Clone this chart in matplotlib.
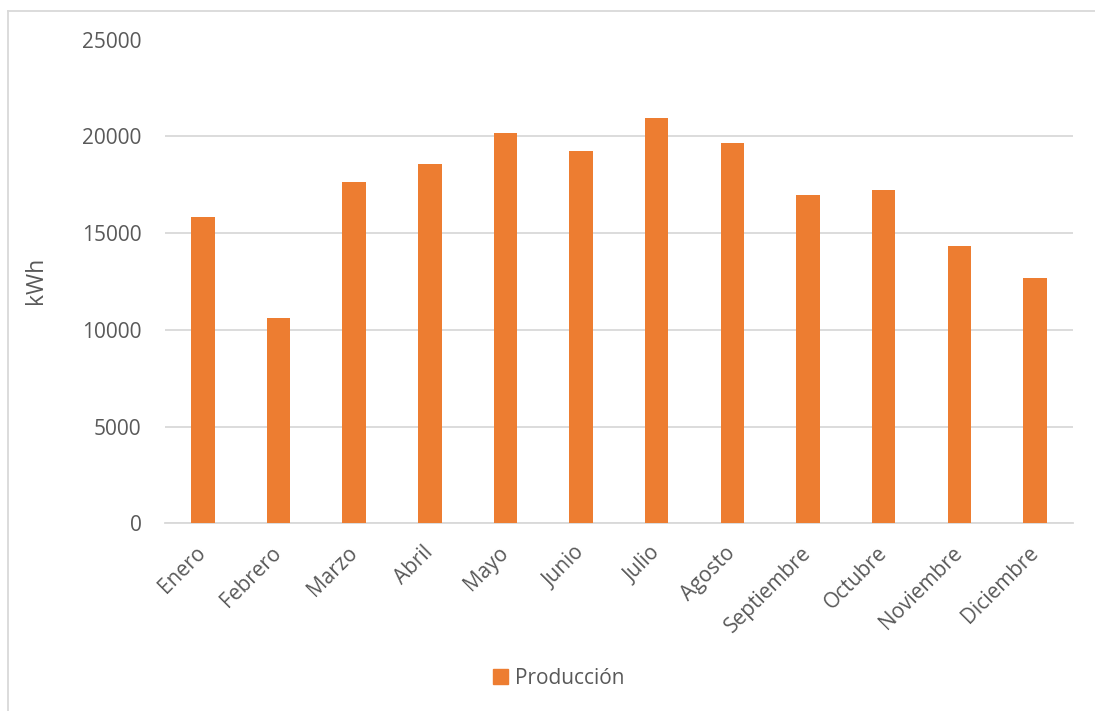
import numpy as np
import matplotlib.pyplot as plt
from matplotlib.patches import Rectangle
from matplotlib.lines import Line2D

plt.rcParams['font.family'] = ['Open Sans', 'DejaVu Sans']

meses = ['Enero', 'Febrero', 'Marzo', 'Abril', 'Mayo', 'Junio',
         'Julio', 'Agosto', 'Septiembre', 'Octubre', 'Noviembre', 'Diciembre']
produccion = [15840, 10590, 17650, 18570, 20180, 19220,
              20940, 19660, 16970, 17220, 14310, 12670]
yticks = [0, 5000, 10000, 15000, 20000, 25000]

W, H = 1095, 711
txt = '#595959'
grid = '#d9d9d9'
naranja = '#ED7D31'

fig = plt.figure(figsize=(W / 100, H / 100), dpi=100)
ax = fig.add_axes([165 / W, (H - 523.3) / H, (1072.8 - 165) / W, (523.3 - 39.5) / H])

x = np.arange(len(meses))
ax.bar(x, produccion, width=0.31, color=naranja, zorder=3)

ax.set_xlim(-0.5, len(meses) - 0.5)
ax.set_ylim(0, 25000)
ax.set_yticks(yticks)
ax.set_yticklabels([str(v) for v in yticks])
ax.set_xticks(x)
ax.set_xticklabels(meses, rotation=45, ha='right', va='center', rotation_mode='anchor')
ax.tick_params(axis='both', length=0, colors=txt, labelsize=15)
ax.tick_params(axis='y', pad=17)
ax.tick_params(axis='x', pad=19)

ax.grid(axis='y', color=grid, linewidth=1.3, zorder=0)
for s in ['top', 'right', 'left']:
    ax.spines[s].set_visible(False)
ax.spines['bottom'].set_color(grid)
ax.spines['bottom'].set_linewidth(1.3)

fig.text(36 / W, 1 - 280 / H, 'kWh', rotation=90, ha='center', va='center',
         color=txt, fontsize=16.5)

# chart frame (only top and left edges are visible)
fig.add_artist(Line2D([7.5 / W, 1], [1 - 10.5 / H, 1 - 10.5 / H], color=grid, linewidth=1.3))
fig.add_artist(Line2D([7.5 / W, 7.5 / W], [0, 1 - 10.5 / H], color=grid, linewidth=1.3))

handle = Rectangle((0, 0), 1, 1, color=naranja)
fig.legend([handle], ['Producción'], loc='center', bbox_to_anchor=(559 / W, 1 - 678 / H),
           frameon=False, handlelength=0.7, handleheight=0.7, handletextpad=0.35,
           labelcolor=txt, fontsize=15)

fig.savefig('out.png', dpi=100)
